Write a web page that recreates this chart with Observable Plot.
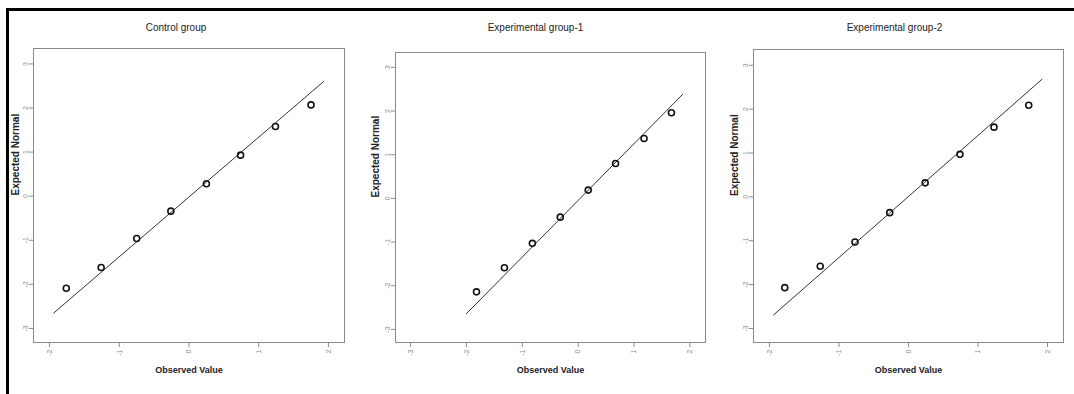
<!DOCTYPE html>
<html>
<head>
<meta charset="utf-8">
<script src="https://cdn.jsdelivr.net/npm/d3@7"></script>
<script src="https://cdn.jsdelivr.net/npm/@observablehq/plot@0.6"></script>
<style>
  body { margin: 0; background: #fff; }
  #chart { position: relative; width: 1074px; height: 394px; background: #fff; overflow: hidden; }
  #chart svg { position: absolute; top: 0; }
  .topline { position: absolute; left: 6px; top: 8px; width: 1068px; height: 3px; background: #000; }
  .leftline { position: absolute; left: 6px; top: 8px; width: 3px; height: 386px; background: #000; }
</style>
</head>
<body>
<div id="chart"><div class="topline"></div><div class="leftline"></div></div>
<script>
// Panel titles
const titles = ["Control group", "Experimental group-1", "Experimental group-2"];
const xLabel = "Observed Value";
const yLabel = "Expected Normal";

// Observed values (x) and expected normal (y) per panel
const controlX = [-1.76, -1.26, -0.75, -0.26, 0.25, 0.74, 1.24, 1.75];
const controlY = [-2.09, -1.62, -0.96, -0.34, 0.28, 0.93, 1.58, 2.07];
const exp1X = [-1.82, -1.32, -0.82, -0.32, 0.18, 0.67, 1.18, 1.67];
const exp1Y = [-2.14, -1.59, -1.03, -0.43, 0.19, 0.80, 1.37, 1.96];
const exp2X = [-1.78, -1.27, -0.77, -0.27, 0.24, 0.74, 1.23, 1.73];
const exp2Y = [-2.07, -1.58, -1.03, -0.36, 0.32, 0.97, 1.59, 2.09];

// Reference line endpoints per panel
const controlLineX = [-1.94, 1.93];
const controlLineY = [-2.65, 2.60];
const exp1LineX = [-2.0, 1.87];
const exp1LineY = [-2.64, 2.38];
const exp2LineX = [-1.94, 1.92];
const exp2LineY = [-2.69, 2.68];

// Axis ticks
const xTicks12 = [-2, -1, 0, 1, 2];
const xTicksExp1 = [-3, -2, -1, 0, 1, 2];
const yTicks = [-3, -2, -1, 0, 1, 2, 3];

const panels = [
  {title: titles[0], xs: controlX, ys: controlY, lx: controlLineX, ly: controlLineY,
   xDomain: [-2.23, 2.23], yDomain: [-3.32, 3.35], xTicks: xTicks12,
   left: 0, mL: 33, mR: 14, mT: 48, titleDx: -13, yLabDx: -18},
  {title: titles[1], xs: exp1X, ys: exp1Y, lx: exp1LineX, ly: exp1LineY,
   xDomain: [-3.27, 2.28], yDomain: [-3.30, 3.34], xTicks: xTicksExp1,
   left: 358, mL: 37, mR: 11, mT: 52, titleDx: -15, yLabDx: -20},
  {title: titles[2], xs: exp2X, ys: exp2Y, lx: exp2LineX, ly: exp2LineY,
   xDomain: [-2.23, 2.23], yDomain: [-3.32, 3.36], xTicks: xTicks12,
   left: 716, mL: 37, mR: 11, mT: 49, titleDx: -14, yLabDx: -19}
];

const chart = document.getElementById("chart");
const font = "Liberation Sans, Arial, sans-serif";

for (const p of panels) {
  const pts = p.xs.map((x, i) => ({x, y: p.ys[i]}));
  const line = p.lx.map((x, i) => ({x, y: p.ly[i]}));
  const svg = Plot.plot({
    width: 358,
    height: 394,
    marginLeft: p.mL,
    marginRight: p.mR,
    marginTop: p.mT,
    marginBottom: 52,
    style: {fontFamily: font, background: "transparent", overflow: "visible"},
    x: {domain: p.xDomain},
    y: {domain: p.yDomain},
    marks: [
      Plot.frame({stroke: "#8a8a8a", strokeWidth: 1}),
      Plot.axisX({ticks: p.xTicks, tickSize: 5, tickPadding: 2, tickRotate: -90, fontSize: 7, color: "#8c8c8c", label: null, tickFormat: d => String(d)}),
      Plot.axisY({ticks: yTicks, tickSize: 4, tickPadding: 2, tickRotate: -90, fontSize: 7, color: "#8c8c8c", label: null, tickFormat: d => String(d)}),
      Plot.line(line, {x: "x", y: "y", stroke: "#333", strokeWidth: 1}),
      Plot.dot(pts, {x: "x", y: "y", r: 3, stroke: "#111", strokeWidth: 1.6, fill: "none"}),
      Plot.text([p.title], {text: d => d, frameAnchor: "top", dy: -(p.mT - 23), dx: p.titleDx, fontSize: 10, fill: "#222", fontWeight: "normal"}),
      Plot.text([xLabel], {text: d => d, frameAnchor: "bottom", dy: 30, fontSize: 9, fill: "#222", fontWeight: "bold"}),
      Plot.text([yLabel], {text: d => d, frameAnchor: "left", dx: p.yLabDx, rotate: -90, fontSize: 10, fill: "#222", fontWeight: "bold"})
    ]
  });
  svg.style.left = p.left + "px";
  chart.appendChild(svg);
}
</script>
</body>
</html>
